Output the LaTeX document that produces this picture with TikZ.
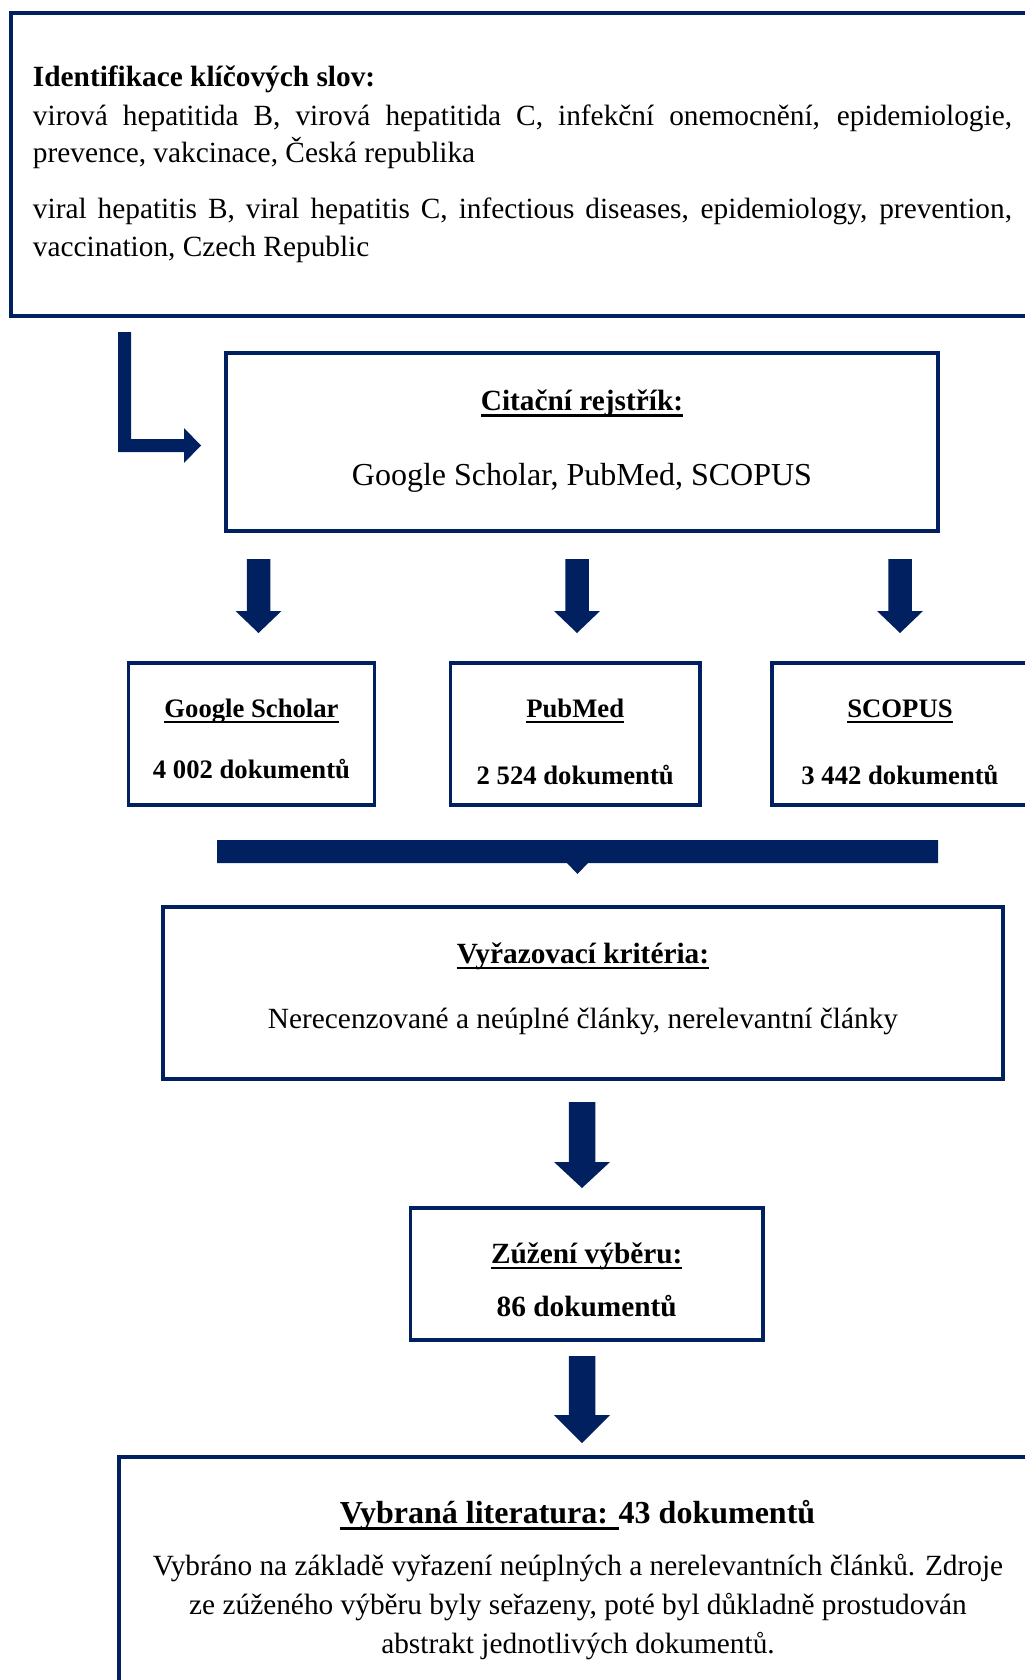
\documentclass[tikz,border=0pt]{standalone}
\usepackage{fontspec}
\setmainfont{Liberation Serif}
\usetikzlibrary{fit}
\definecolor{navy}{RGB}{0,32,96}
\newcommand{\myul}[1]{\setbox0\hbox{#1}\rlap{\rule[-0.2em]{\wd0}{0.075em}}\box0\relax}
\newcommand{\fA}{\fontsize{22pt}{29pt}\selectfont}
\newcommand{\fB}{\fontsize{24pt}{30pt}\selectfont}
\newcommand{\fC}{\fontsize{20pt}{26pt}\selectfont}
\begin{document}
\begin{tikzpicture}[x=0.75pt,y=-0.75pt,
  box/.style={draw=navy,line width=2.6pt,inner sep=0pt},
  arr/.style={fill=navy,draw=none},
  t/.style={inner sep=0pt,anchor=base},
  tl/.style={inner sep=0pt,anchor=base west}]
\useasboundingbox (0,0) rectangle (1024,1680);
\path[fill=white] (0,0) rectangle (1024,1680);

% boxes
\node[box, fit={(11,13) (1045,316)}] (kw) {};
\node[box, fit={(226,353) (938,531)}] (cit) {};
\node[box, fit={(128.5,663) (374.5,805)}] (gs) {};
\node[box, fit={(450.5,663) (700,805)}] (pm) {};
\node[box, fit={(772,663) (1028,805)}] (sc) {};
\node[box, fit={(163,907) (1003,1079)}] (vy) {};
\node[box, fit={(410.5,1208) (763,1340)}] (zu) {};
\node[box, fit={(119,1457) (1037,1720)}] (vb) {};

% arrows
\fill[arr] (118,332) -- (131,332) -- (131,439) -- (184,439) -- (184,428) -- (201,445.5) -- (184,463) -- (184,452) -- (118,452) -- cycle;
\fill[arr] (246.75,559) -- (270.25,559) -- (270.25,611) -- (281.5,611) -- (258.5,633) -- (235.5,611) -- (246.75,611) -- cycle;
\fill[arr] (565.25,559) -- (588.75,559) -- (588.75,611) -- (600,611) -- (577,633) -- (554,611) -- (565.25,611) -- cycle;
\fill[arr] (888.25,559) -- (911.75,559) -- (911.75,611) -- (923,611) -- (900,633) -- (877,611) -- (888.25,611) -- cycle;
\fill[arr] (217,840) -- (938,840) -- (938,863) -- (588,863) -- (577.5,874) -- (567,863) -- (217,863) -- cycle;
\fill[arr] (568.75,1102) -- (595.25,1102) -- (595.25,1162) -- (610,1162) -- (582,1188) -- (554,1162) -- (568.75,1162) -- cycle;
\fill[arr] (568.75,1356) -- (595.25,1356) -- (595.25,1415) -- (610,1415) -- (582,1443) -- (554,1415) -- (568.75,1415) -- cycle;

% top box text
\node[tl] (kwt) at (32.7,87) {\fA\bfseries Identifikace klíčových slov:};
\node[tl] (kw1) at (32.7,125.3) {\fA\makebox[734.25pt][s]{virová hepatitida B, virová hepatitida C, infekční onemocnění, epidemiologie,}};
\node[tl] (kw2) at (32.7,162.7) {\fA prevence, vakcinace, Česká republika};
\node[tl] (kw3) at (32.7,218.3) {\fA\makebox[734.25pt][s]{viral hepatitis B, viral hepatitis C, infectious diseases, epidemiology, prevention,}};
\node[tl] (kw4) at (32.7,256.7) {\fA vaccination, Czech Republic};

% citacni rejstrik
\node[t] (citt) at (582,410.7) {\fA\bfseries\myul{Citační rejstřík:}};
\node[t] (citb) at (582,485) {\fB Google Scholar, PubMed, SCOPUS};

% sources
\node[t] (gst) at (251.5,717.3) {\fC\bfseries\myul{Google Scholar}};
\node[t] (gsn) at (251.5,778) {\fC\bfseries 4 002 dokumentů};
\node[t] (pmt) at (575.25,717.3) {\fC\bfseries\myul{PubMed}};
\node[t] (pmn) at (575.25,784) {\fC\bfseries 2 524 dokumentů};
\node[t] (sct) at (900,717.3) {\fC\bfseries\myul{SCOPUS}};
\node[t] (scn) at (900,784) {\fC\bfseries 3 442 dokumentů};

% vyrazovaci kriteria
\node[t] (vyt) at (583,963.3) {\fA\bfseries\myul{Vyřazovací kritéria:}};
\node[t] (vyb) at (583,1028) {\fA Nerecenzované a neúplné články, nerelevantní články};

% zuzeni vyberu
\node[t] (zut) at (586.75,1263.3) {\fA\bfseries\myul{Zúžení výběru:}};
\node[t] (zun) at (586.75,1316.7) {\fA\bfseries 86 dokumentů};

% vybrana literatura
\node[t] (vbt) at (577.6,1523.3) {\fB\bfseries\myul{Vybraná literatura: }43 dokumentů};
\node[t] (vb1) at (578,1575) {\fA Vybráno na základě vyřazení neúplných a nerelevantních článků. Zdroje};
\node[t] (vb2) at (578,1614) {\fA ze zúženého výběru byly seřazeny, poté byl důkladně prostudován};
\node[t] (vb3) at (578,1653) {\fA abstrakt jednotlivých dokumentů.};
\end{tikzpicture}
\end{document}
